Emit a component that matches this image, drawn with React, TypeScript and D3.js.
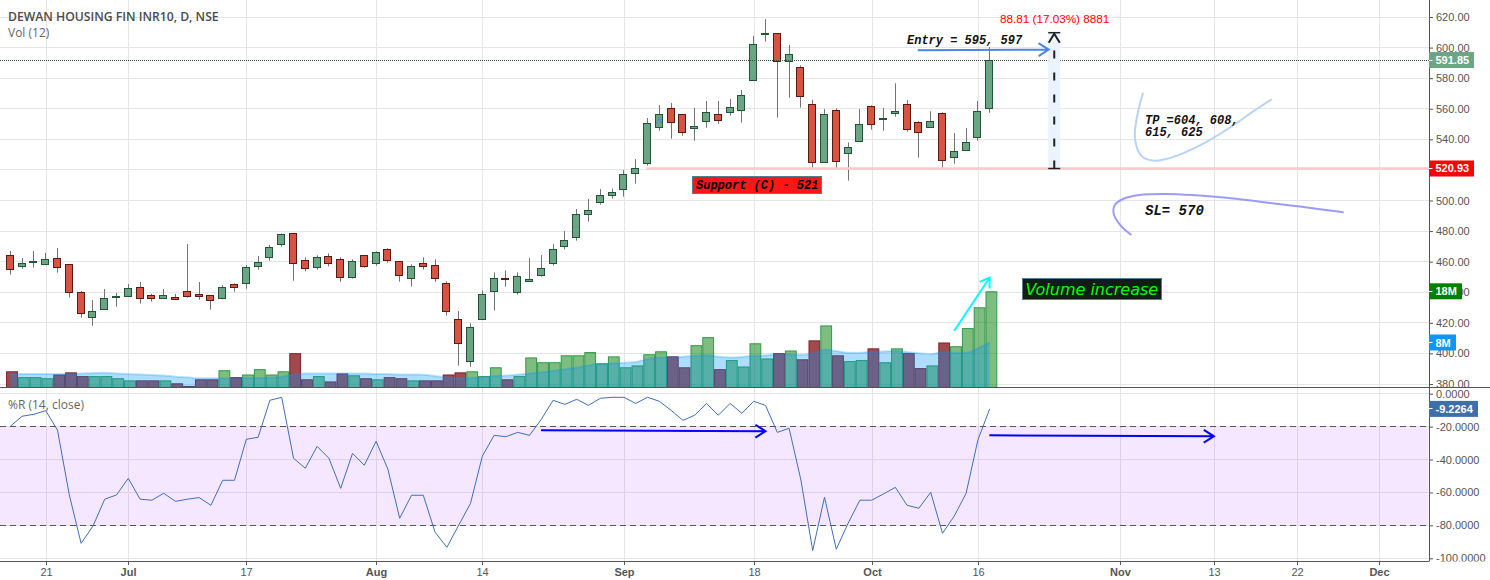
import React, { useEffect, useRef } from 'react';
import * as d3 from 'd3';

const opens = [464.1,456.9,459.3,458.3,462.2,458.3,439.9,423.6,428.8,436.7,437.3,443.2,438.0,436.0,436.7,440.6,438.6,438.0,436.0,445.2,445.8,456.9,462.8,471.3,478.5,460.9,456.3,463.5,461.5,449.7,464.1,458.9,468.1,460.2,449.1,458.9,457.6,445.8,422.3,394.8,422.3,440.6,449.1,439.9,447.1,450.8,458.9,470.0,475.9,490.9,498.8,503.4,507.3,517.8,524.3,547.8,560.3,556.3,547.2,551.8,556.3,557.7,559.0,578.6,608.4,609.3,591.0,587.1,562.9,525.0,559.0,530.8,538.7,561.6,553.1,557.0,562.9,551.1,547.8,557.0,528.2,532.8,541.3,560.3];
const highs = [467.0,462.4,467.0,465.7,468.9,458.3,440.8,434.9,442.1,439.5,445.4,446.7,438.9,442.1,438.9,471.55,446.7,438.0,444.7,445.8,457.8,463.7,470.9,478.5,478.5,462.8,464.1,465.4,462.8,461.5,464.1,466.7,468.7,460.2,458.3,462.8,461.5,447.1,427.7,419.7,441.2,453.0,454.3,453.0,462.4,464.4,471.5,480.1,494.4,501.0,507.5,507.9,519.9,527.1,553.9,562.4,563.8,556.3,560.5,565.1,565.1,566.4,572.3,607.6,618.7,609.3,601.7,588.4,565.9,559.8,560.3,538.0,559.8,562.2,560.5,576.6,565.7,551.8,558.3,557.7,544.1,547.4,565.1,600.2];
const lows = [451.5,455.4,456.1,458.3,452.8,436.5,423.4,418.1,428.8,430.6,437.3,432.5,433.8,436.0,435.4,436.5,435.1,428.6,435.4,440.4,442.3,454.8,460.6,469.8,447.6,453.7,454.8,456.9,446.9,448.9,456.1,457.4,459.3,446.9,443.6,454.8,446.9,424.7,392.0,391.3,422.3,428.0,443.6,438.4,447.1,450.2,457.6,468.1,473.7,486.2,497.3,501.2,502.5,511.0,522.8,545.7,540.4,542.4,539.1,547.6,550.2,555.5,550.9,578.6,603.9,554.2,567.2,560.7,520.8,525.0,520.8,513.0,538.7,546.3,545.7,554.8,545.0,528.0,547.8,520.8,524.1,532.8,539.1,557.4];
const closes = [455.0,458.9,460.2,461.5,456.3,439.9,426.2,427.5,436.0,437.3,442.6,436.0,436.0,438.0,435.4,437.3,437.3,434.7,443.2,443.2,456.3,459.6,469.4,477.9,458.9,455.6,462.8,458.9,449.7,460.2,456.9,466.1,460.9,451.1,456.9,456.9,449.1,427.5,406.6,417.0,438.6,449.1,448.4,450.4,448.4,455.4,468.1,474.0,490.9,493.6,503.4,505.3,517.1,521.0,550.5,556.3,551.1,544.6,548.5,557.7,552.4,560.9,568.8,602.1,609.3,591.0,595.6,568.1,525.0,556.4,525.6,534.8,549.8,549.8,553.7,558.3,546.5,544.6,551.8,526.3,532.1,538.0,558.3,591.85];
const volumes = [3.0,1.9,1.9,1.7,2.4,2.8,2.1,2.1,2.1,1.7,1.3,1.3,1.3,1.3,0.75,0.25,1.5,1.5,3.2,1.9,2.4,3.4,2.4,3.0,6.4,1.5,2.1,1.1,2.6,2.25,1.7,1.5,1.9,1.7,1.3,1.3,1.3,2.4,2.8,3.0,2.1,3.75,1.5,2.1,5.6,4.7,4.7,6.0,6.0,6.6,4.5,5.8,3.75,4.1,6.2,6.75,5.8,3.75,7.9,9.4,3.4,5.1,3.9,8.25,5.4,6.4,6.9,5.25,8.8,11.6,6.0,4.9,5.1,7.3,4.7,7.3,6.4,3.6,4.1,8.4,7.7,11.1,15,18];
const volumeMa = [2.5,2.5,2.5,2.5,2.5,2.5,2.6,2.7,2.75,2.6,2.5,2.4,2.3,2.2,2.0,1.9,1.7,1.7,1.7,1.7,1.75,1.75,1.8,2.0,2.4,2.6,2.6,2.6,2.6,2.6,2.6,2.5,2.5,2.4,2.4,2.35,2.1,1.85,1.75,1.8,1.9,2.1,2.2,2.4,2.6,2.8,3.1,3.4,3.7,4.1,4.4,4.5,4.6,4.75,5.3,5.6,5.6,5.75,5.9,6.0,5.75,5.6,5.7,5.9,6.0,6.25,6.2,6.1,6.4,7.1,6.8,6.5,6.5,6.6,6.7,6.8,6.6,6.4,6.2,6.6,6.5,6.5,7.3,8.4];
const percentR = [-19.8,-13.7,-12.5,-10.3,-22.2,-61.5,-90.9,-80.5,-64.1,-61.5,-51.4,-64.1,-64.7,-60.5,-65.4,-64.1,-63.1,-67.8,-52.6,-52.6,-27.7,-26.5,-4.0,-2.2,-39.2,-45.3,-32.0,-39.2,-57.5,-36.2,-43.5,-28.9,-45.9,-75.7,-61.7,-61.7,-84.2,-93.3,-79.9,-66.6,-38.0,-25.3,-26.1,-23.5,-25.3,-15.6,-4.0,-6.5,-3.4,-7.1,-2.8,-2.2,-2.2,-5.9,-2.2,-4.6,-10.1,-16.2,-13.1,-5.9,-13.1,-5.9,-11.9,-4.6,-7.1,-23.5,-21.0,-52.4,-95.3,-62.9,-94.5,-78.7,-64.7,-64.7,-60.9,-56.9,-67.8,-69.6,-59.9,-84.8,-74.3,-60.5,-28.1,-9.2264];

// date axis, position in bars from the first candle
const dateTickIndex = [3, 10, 20, 31, 40, 52, 63, 73, 82, 94, 102, 109, 116];
const dateTickLabels = ['21', 'Jul', '17', 'Aug', '14', 'Sep', '18', 'Oct', '16', 'Nov', '13', '22', 'Dec'];
const monthLabels = ['Jul', 'Aug', 'Sep', 'Oct', 'Nov', 'Dec'];
const priceTicks = d3.range(380, 621, 20);
const percentTicks = [0, -20, -40, -60, -80, -100];

// hand drawn objects, as [bar index, price]
const tpCurve: [number, number][] = [[96.0,570.5],[95.6,559.2],[95.3,544.0],[95.5,534.1],[96.0,528.3],[97.0,526.0],[98.6,528.6],[100.3,534.1],[101.9,540.7],[103.9,550.5],[105.3,558.1],[106.9,566.2]];
const slCurve: [number, number][] = [[95.0,477.4],[94.05,484.0],[93.5,491.6],[93.6,497.1],[94.3,501.0],[95.7,503.6],[98.0,504.3],[100.5,503.4],[103.1,501.8],[105.9,499.2],[109.3,496.0],[113.0,492.3]];
const entryArrow: [number, number][] = [[76.9,598.2],[88.0,598.7]];
const rArrowOne: [number, number][] = [[44.97,-22.2],[64.0,-22.8]];
const rArrowTwo: [number, number][] = [[82.97,-25.3],[102.0,-25.9]];
const volumeArrow: [number, number][] = [[80.0,10.6],[83.0,20.6]];
const supportPrice = 520.93;
const supportStartIndex = 53.9;
const measureIndex = 88.47;
const measureHalfBars = 0.51;
const measureChange = 88.81;
const lastPrice = 591.85;

const WIDTH = 1490;
const HEIGHT = 580;
const PLOT_RIGHT = 1429;
const PANE_SPLIT = 387.5;
const BOTTOM = 561.5;

const UI_FONT = '"Liberation Sans", Arial, sans-serif';
const MONO_FONT = '"Liberation Mono", monospace';
const AXIS_TEXT = '#555';
const GRID = '#e6e6e6';

export default function App() {
  const chartRef = useRef<SVGSVGElement>(null);

  useEffect(() => {
    if (!chartRef.current) return;
    const svg = d3.select(chartRef.current);
    svg.selectAll('*').remove();

    const x = d3.scaleLinear().domain([0, 83]).range([10.3, 989.7]);
    const yPrice = d3.scaleLinear().domain([380, 620]).range([384, 17]);
    const yVol = d3.scaleLinear().domain([0, 18]).range([387.3, 291.3]);
    const yR = d3.scaleLinear().domain([-100, 0]).range([558.3, 393.7]);
    const crisp = (v: number) => Math.round(v - 0.5) + 0.5;

    svg.append('rect').attr('width', WIDTH).attr('height', HEIGHT).attr('fill', '#fff');

    const defs = svg.append('defs');
    defs.append('clipPath').attr('id', 'priceClip').append('rect').attr('width', WIDTH).attr('height', PANE_SPLIT);
    defs.append('clipPath').attr('id', 'rClip').append('rect').attr('y', PANE_SPLIT).attr('width', WIDTH).attr('height', BOTTOM - PANE_SPLIT);

    // Grid
    const grid = svg.append('g').attr('stroke', GRID).attr('stroke-width', 1);
    dateTickIndex.forEach(d => {
      const gx = crisp(x(d) + 0.6);
      grid.append('line').attr('x1', gx).attr('x2', gx).attr('y1', 0).attr('y2', BOTTOM);
    });
    priceTicks.forEach(d => {
      const gy = crisp(yPrice(d));
      grid.append('line').attr('x1', 0).attr('x2', PLOT_RIGHT).attr('y1', gy).attr('y2', gy);
    });
    percentTicks.forEach(d => {
      const gy = crisp(yR(d));
      grid.append('line').attr('x1', 0).attr('x2', PLOT_RIGHT).attr('y1', gy).attr('y2', gy);
    });

    // %R band
    svg.append('rect')
      .attr('x', 0).attr('width', PLOT_RIGHT - 1)
      .attr('y', yR(-20)).attr('height', yR(-80) - yR(-20))
      .attr('fill', 'rgba(153, 21, 255, 0.1)');
    [-20, -80].forEach(d => {
      svg.append('line')
        .attr('x1', 0).attr('x2', PLOT_RIGHT)
        .attr('y1', crisp(yR(d))).attr('y2', crisp(yR(d)))
        .attr('stroke', '#555').attr('stroke-dasharray', '6,4');
    });

    // Volume bars
    const isUp = (i: number) => closes[i] >= opens[i];
    svg.append('g').selectAll('rect')
      .data(volumes)
      .enter()
      .append('rect')
      .attr('x', (d, i) => x(i) - 3.7)
      .attr('width', 10.8)
      .attr('y', d => yVol(d) + 0.5)
      .attr('height', d => yVol(0) - yVol(d) - 0.5)
      .attr('fill', (d, i) => isUp(i) ? 'rgba(0, 121, 0, 0.5)' : 'rgba(136, 29, 34, 0.8)')
      .attr('stroke', (d, i) => isUp(i) ? '#2e9a47' : '#7c1f2b')
      .attr('stroke-width', 1);

    // Volume average
    const maArea = d3.area<number>()
      .x((d, i) => x(i))
      .y0(yVol(0))
      .y1(d => yVol(d))
      .curve(d3.curveMonotoneX);
    const maLine = d3.line<number>()
      .x((d, i) => x(i))
      .y(d => yVol(d))
      .curve(d3.curveMonotoneX);
    svg.append('path').datum(volumeMa).attr('d', maArea).attr('fill', 'rgba(0, 148, 255, 0.32)');
    svg.append('path').datum(volumeMa).attr('d', maLine).attr('fill', 'none')
      .attr('stroke', 'rgba(0, 148, 255, 0.25)').attr('stroke-width', 2);

    // Candles
    const candles = svg.append('g');
    opens.forEach((open, i) => {
      const cx = x(i);
      const top = yPrice(Math.max(open, closes[i]));
      const bottom = yPrice(Math.min(open, closes[i]));
      candles.append('line')
        .attr('x1', crisp(cx)).attr('x2', crisp(cx))
        .attr('y1', yPrice(highs[i])).attr('y2', yPrice(lows[i]))
        .attr('stroke', '#737375');
      candles.append('rect')
        .attr('x', crisp(cx - 4))
        .attr('width', 7)
        .attr('y', crisp(top))
        .attr('height', Math.max(1, Math.round(bottom - top)))
        .attr('fill', isUp(i) ? '#6ba583' : '#d75442')
        .attr('stroke', isUp(i) ? '#225437' : '#5b1a13')
        .attr('stroke-width', 1);
    });

    // Last price line
    svg.append('line')
      .attr('x1', 0).attr('x2', PLOT_RIGHT)
      .attr('y1', crisp(yPrice(lastPrice))).attr('y2', crisp(yPrice(lastPrice)))
      .attr('stroke', '#33503f').attr('stroke-dasharray', '1,1');

    // %R line
    const rLine = d3.line<number>().x((d, i) => x(i)).y(d => yR(d));
    svg.append('path').datum(percentR).attr('d', rLine).attr('fill', 'none')
      .attr('stroke', '#3f6fb5').attr('stroke-width', 1);

    // Support line
    svg.append('line')
      .attr('x1', x(supportStartIndex)).attr('x2', PLOT_RIGHT)
      .attr('y1', yPrice(supportPrice)).attr('y2', yPrice(supportPrice))
      .attr('stroke', '#fbcaca').attr('stroke-width', 2.5);

    // Measure tool
    const measureX = x(measureIndex);
    const measureTop = yPrice(supportPrice + measureChange);
    const measureBottom = yPrice(supportPrice);
    const measureLeft = x(measureIndex - measureHalfBars);
    const measureRight = x(measureIndex + measureHalfBars);
    svg.append('rect')
      .attr('x', measureLeft).attr('width', measureRight - measureLeft)
      .attr('y', measureTop).attr('height', measureBottom - measureTop)
      .attr('fill', '#ebf3fe');
    svg.append('line')
      .attr('x1', measureX).attr('x2', measureX)
      .attr('y1', measureBottom).attr('y2', measureTop + 15)
      .attr('stroke', '#222').attr('stroke-width', 2).attr('stroke-dasharray', '8,14');
    svg.append('line').attr('x1', measureLeft).attr('x2', measureRight)
      .attr('y1', measureBottom).attr('y2', measureBottom).attr('stroke', '#222').attr('stroke-width', 1.5);
    svg.append('line').attr('x1', measureLeft).attr('x2', measureRight)
      .attr('y1', measureTop).attr('y2', measureTop).attr('stroke', '#222').attr('stroke-width', 1.5);
    svg.append('path')
      .attr('d', `M${measureLeft + 0.5},${measureTop + 10}L${measureX},${measureTop + 1}L${measureRight - 0.5},${measureTop + 10}`)
      .attr('fill', 'none').attr('stroke', '#222').attr('stroke-width', 2);

    // Arrows
    const drawArrow = (p0: [number, number], p1: [number, number], color: string, width: number, arm: number) => {
      const a = Math.atan2(p1[1] - p0[1], p1[0] - p0[0]);
      const head = [a + Math.PI * 0.82, a - Math.PI * 0.82].map(t => [p1[0] + arm * Math.cos(t), p1[1] + arm * Math.sin(t)]);
      svg.append('path')
        .attr('d', `M${p0[0]},${p0[1]}L${p1[0]},${p1[1]}M${head[0][0]},${head[0][1]}L${p1[0]},${p1[1]}L${head[1][0]},${head[1][1]}`)
        .attr('fill', 'none').attr('stroke', color).attr('stroke-width', width);
    };
    const inPrice = (p: [number, number]): [number, number] => [x(p[0]), yPrice(p[1])];
    const inR = (p: [number, number]): [number, number] => [x(p[0]), yR(p[1])];
    const inVol = (p: [number, number]): [number, number] => [x(p[0]), yVol(p[1])];
    drawArrow(inPrice(entryArrow[0]), inPrice(entryArrow[1]), '#4a86e8', 2, 12);
    drawArrow(inR(rArrowOne[0]), inR(rArrowOne[1]), '#0000ff', 2, 12);
    drawArrow(inR(rArrowTwo[0]), inR(rArrowTwo[1]), '#0000ff', 2, 12);
    drawArrow(inVol(volumeArrow[0]), inVol(volumeArrow[1]), '#00ffff', 2, 11);

    // Small caret on the September candle
    const caretX = x(55);
    const caretY = yPrice(552.2);
    svg.append('path')
      .attr('d', `M${caretX - 2.5},${caretY + 3}L${caretX},${caretY - 3}L${caretX + 2.5},${caretY + 3}`)
      .attr('fill', 'none').attr('stroke', '#4a86e8').attr('stroke-width', 1);

    // Brush curves
    const brush = d3.line<[number, number]>()
      .x(d => x(d[0])).y(d => yPrice(d[1]))
      .curve(d3.curveCatmullRom.alpha(0.5));
    svg.append('path').datum(tpCurve).attr('d', brush).attr('fill', 'none')
      .attr('stroke', '#b7d3f7').attr('stroke-width', 2);
    svg.append('path').datum(slCurve).attr('d', brush).attr('fill', 'none')
      .attr('stroke', '#9a9cfb').attr('stroke-width', 2);

    // Notes
    const note = (tx: number, ty: number, text: string, size: number) => svg.append('text')
      .attr('x', tx).attr('y', ty).text(text)
      .attr('font-family', MONO_FONT).attr('font-style', 'italic').attr('font-weight', 'bold').attr('font-size', size)
      .attr('fill', '#111');
    note(907, 44, 'Entry = 595, 597', 12);
    note(1145, 124, 'TP =604, 608,', 12);
    note(1145, 136, '615, 625', 12);
    note(1145, 215, 'SL= 570', 14);

    svg.append('text').attr('x', 1000).attr('y', 23).text(`${measureChange} (17.03%) 8881`)
      .attr('font-family', UI_FONT).attr('font-size', 11.7).attr('fill', '#ff0000');

    svg.append('rect').attr('x', 692.5).attr('y', 176.5).attr('width', 129).attr('height', 17)
      .attr('fill', '#ff1616').attr('stroke', '#5a7a8f');
    note(696, 189, 'Support (C) - 521', 12).attr('fill', '#000');

    svg.append('rect').attr('x', 1022.5).attr('y', 278.5).attr('width', 139).attr('height', 21)
      .attr('fill', '#111c15').attr('stroke', '#5a7a8f');
    svg.append('text').attr('x', 1025.5).attr('y', 295).text('Volume increase')
      .attr('font-family', '"DejaVu Sans", sans-serif').attr('font-style', 'italic').attr('font-size', 16)
      .attr('fill', '#00ff00');

    // Pane legends
    svg.append('text').attr('x', 8).attr('y', 21).text('DEWAN HOUSING FIN INR10, D, NSE')
      .attr('font-family', '"Open Sans", sans-serif').attr('font-weight', 600).attr('font-size', 12.2).attr('fill', '#4c4c4c');
    svg.append('text').attr('x', 8).attr('y', 37).text('Vol (12)')
      .attr('font-family', '"Open Sans", sans-serif').attr('font-size', 12).attr('fill', '#666');
    svg.append('text').attr('x', 8).attr('y', 409).text('%R (14, close)')
      .attr('font-family', '"Open Sans", sans-serif').attr('font-size', 12).attr('fill', '#666');

    // Axis frame
    const frame = svg.append('g').attr('stroke', '#555').attr('stroke-width', 1);
    frame.append('line').attr('x1', 0).attr('x2', WIDTH).attr('y1', PANE_SPLIT).attr('y2', PANE_SPLIT);
    frame.append('line').attr('x1', 0).attr('x2', PLOT_RIGHT).attr('y1', BOTTOM).attr('y2', BOTTOM);
    frame.append('line').attr('x1', PLOT_RIGHT + 0.5).attr('x2', PLOT_RIGHT + 0.5).attr('y1', 0).attr('y2', BOTTOM);

    // Axes
    const styleAxis = (g: any) => {
      g.select('.domain').remove();
      g.selectAll('line').attr('stroke', '#555');
      g.selectAll('text').attr('fill', AXIS_TEXT).attr('font-family', UI_FONT).attr('font-size', 11);
    };
    svg.append('g')
      .attr('transform', `translate(${PLOT_RIGHT + 0.5},0)`)
      .attr('clip-path', 'url(#priceClip)')
      .call(d3.axisRight(yPrice).tickValues(priceTicks).tickSize(3.5).tickPadding(3).tickFormat(d => d3.format('.2f')(d as number)) as any)
      .call(styleAxis);
    svg.append('g')
      .attr('transform', `translate(${PLOT_RIGHT + 0.5},0)`)
      .attr('clip-path', 'url(#rClip)')
      .call(d3.axisRight(yR).tickValues(percentTicks).tickSize(3.5).tickPadding(3).tickFormat(d => d3.format('.4f')(d as number).replace('−', '-')) as any)
      .call(styleAxis);
    const dateAxis = svg.append('g')
      .attr('transform', `translate(0,${BOTTOM})`)
      .call(d3.axisBottom(x).tickValues(dateTickIndex).tickSize(3.5).tickPadding(3)
        .tickFormat((d, i) => dateTickLabels[i]) as any)
      .call(styleAxis);
    dateAxis.selectAll('.tick').attr('transform', (d: any) => `translate(${crisp(x(d) + 0.6)},0)`);
    dateAxis.selectAll('text')
      .attr('font-weight', (d: any, i: number) => monthLabels.includes(dateTickLabels[i]) ? 'bold' : 'normal');

    // Price tags on the axis
    const tag = (cy: number, text: string, fill: string, w: number) => {
      svg.append('rect').attr('x', PLOT_RIGHT).attr('y', cy - 8).attr('width', w).attr('height', 16).attr('fill', fill);
      svg.append('line').attr('x1', PLOT_RIGHT).attr('x2', PLOT_RIGHT + 3.5).attr('y1', crisp(cy)).attr('y2', crisp(cy)).attr('stroke', '#fff');
      svg.append('text').attr('x', PLOT_RIGHT + 6.5).attr('y', cy + 4).text(text)
        .attr('font-family', UI_FONT).attr('font-size', 11).attr('font-weight', 'bold').attr('fill', '#fff');
    };
    tag(yPrice(lastPrice), lastPrice.toFixed(2), '#6ba583', 45);
    tag(yPrice(supportPrice), supportPrice.toFixed(2), '#ff0000', 45);
    tag(yVol(volumes[83]), '18M', '#008000', 33);
    tag(yVol(volumeMa[83]), '8M', '#0a96fa', 27);
    tag(yR(percentR[83]), percentR[83].toFixed(4), '#3f6fa8', 49);
  }, []);

  return (
    <svg
      ref={chartRef}
      width={WIDTH}
      height={HEIGHT}
      style={{ position: 'fixed', left: 0, top: 0, display: 'block' }}
    />
  );
}
